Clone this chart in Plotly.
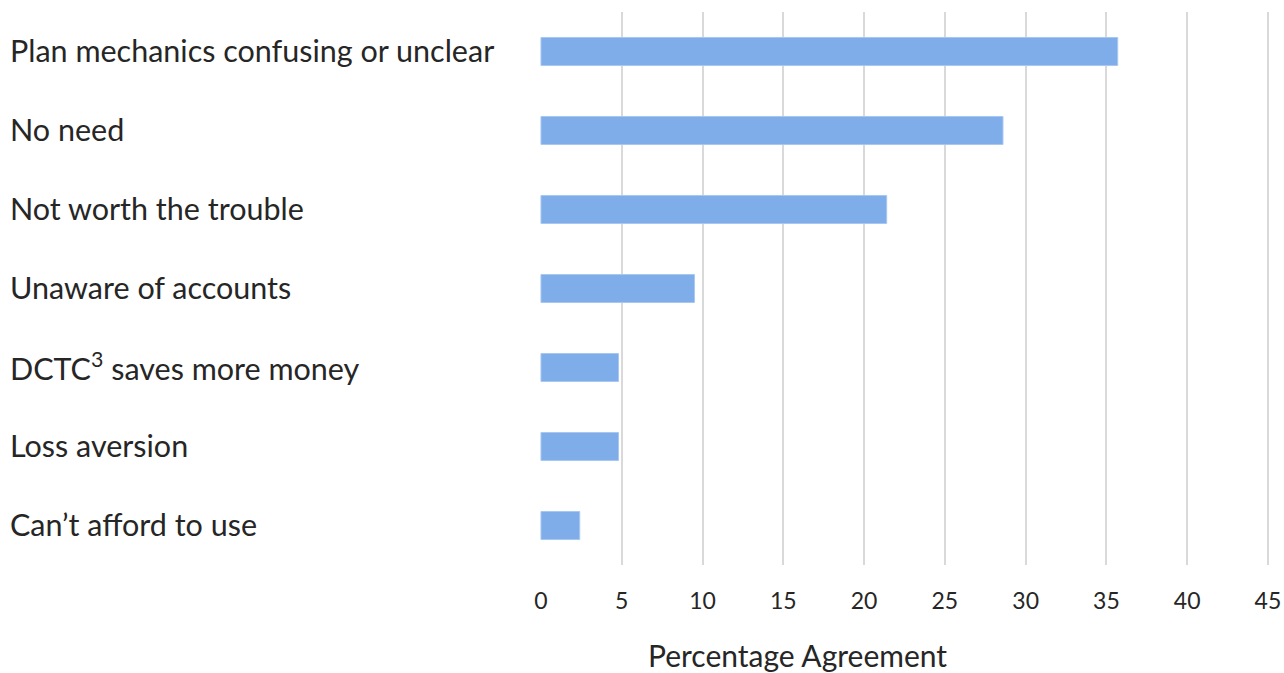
import plotly.graph_objects as go

categories = [
    "Plan mechanics confusing or unclear",
    "No need",
    "Not worth the trouble",
    "Unaware of accounts",
    "DCTC<sup>3</sup> saves more money",
    "Loss aversion",
    "Can’t afford to use",
]
values = [35.7, 28.6, 21.4, 9.5, 4.8, 4.8, 2.4]
x_ticks = [0, 5, 10, 15, 20, 25, 30, 35, 40, 45]
x_title = "Percentage Agreement"

FONT = "Lato"
TXT = "#262626"

fig = go.Figure()
fig.add_trace(go.Bar(
    y=categories, x=values, orientation="h",
    marker=dict(color="#7fadea", line=dict(color="#a9c8f0", width=1)),
    hoverinfo="x+y",
))

for c in categories:
    fig.add_annotation(
        x=0, xref="paper", xshift=-532, yshift=2, y=c, yref="y",
        text=c, showarrow=False, xanchor="left", yanchor="middle",
        font=dict(family=FONT, size=30.5, color=TXT),
    )

fig.add_annotation(
    x=0.352, xref="paper", y=-0.163, yref="paper",
    text=x_title, showarrow=False, xanchor="center", yanchor="middle",
    font=dict(family=FONT, size=30, color=TXT),
)

fig.update_layout(
    width=1284, height=673,
    margin=dict(l=540, r=12, t=12, b=108, autoexpand=False),
    paper_bgcolor="white", plot_bgcolor="white",
    showlegend=False, bargap=0.645,
    font=dict(family=FONT, color=TXT),
)
fig.update_xaxes(
    range=[-0.06, 45.25], tickvals=x_ticks, ticktext=[str(t) for t in x_ticks],
    showgrid=True, gridcolor="#d9d9d9", gridwidth=2, zeroline=False,
    showline=False, ticks="", ticklabelstandoff=20, automargin=False,
    tickfont=dict(family=FONT, size=23, color=TXT),
)
fig.update_yaxes(
    categoryorder="array", categoryarray=categories[::-1], automargin=False,
    showticklabels=False, showgrid=False, zeroline=False, showline=False,
)

fig.write_html("out.html")
